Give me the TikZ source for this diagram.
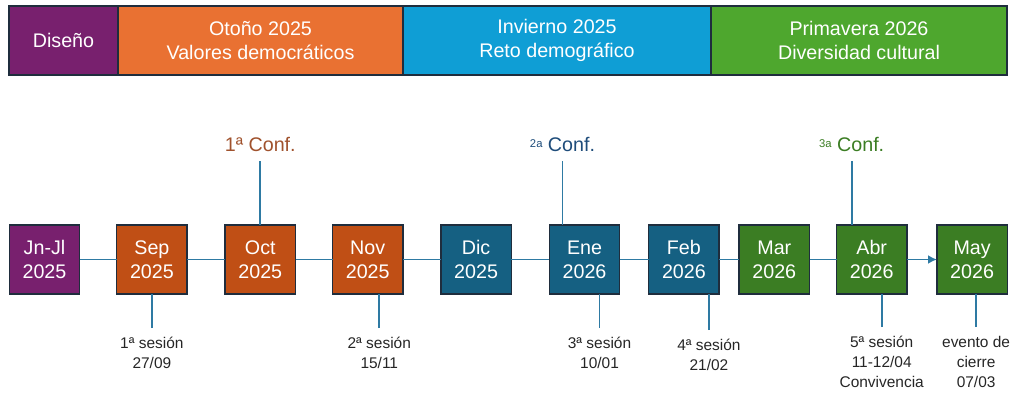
\documentclass[tikz,border=0pt]{standalone}
\usepackage{fontspec}
\setmainfont{Liberation Sans}
\usetikzlibrary{positioning}
\usetikzlibrary{arrows.meta}
\definecolor{lila}{HTML}{78206E}
\definecolor{herbstband}{HTML}{E97132}
\definecolor{herbst}{HTML}{C04F15}
\definecolor{winterband}{HTML}{0F9ED5}
\definecolor{winter}{HTML}{156082}
\definecolor{fruehband}{HTML}{4EA72E}
\definecolor{frueh}{HTML}{3B7D23}
\definecolor{rand}{HTML}{1F2D3D}
\definecolor{linie}{HTML}{2E7AA3}
\definecolor{braun}{HTML}{A0522D}
\definecolor{marine}{HTML}{1E4C7A}
\definecolor{grau}{HTML}{262626}
\newcommand{\hochz}[1]{{\fontsize{8}{8}\selectfont\raisebox{0.6ex}{#1}}}

\begin{document}
\begin{tikzpicture}[band/.style = {draw=rand, line width=0.9pt, outer sep=0pt, minimum height=1.725cm, inner sep=0pt, text=white, align=center, font=\fontsize{14}{17}\selectfont},
        monat/.style = {draw=rand, line width=0.9pt, outer sep=0pt, minimum width=1.76cm, minimum height=1.725cm, inner sep=0pt, text=white, align=center, font=\fontsize{14}{17}\selectfont},
        konf/.style = {inner sep=0pt, font=\fontsize{14}{17}\selectfont},
        sitzung/.style = {inner sep=0pt, align=center, text=grau, font=\fontsize{11}{14.2}\selectfont},
        zeit/.style = {draw=linie, line width=1.2pt}]
        \useasboundingbox (0,0) rectangle (25.325,-9.8);

        %Kopfzeile
        \node[band, fill=lila, minimum width=2.725cm] (dis) at (1.5875,-1.0125) {Diseño};
        \node[band, fill=herbstband, minimum width=7.125cm] (oto) [right = 0cm of dis] {Otoño 2025\\Valores democráticos};
        \node[band, fill=winterband, minimum width=7.7cm] (inv) [right = 0cm of oto] {Invierno 2025\\Reto demográfico};
        \node[band, fill=fruehband, minimum width=7.4cm] (pri) [right = 0cm of inv] {Primavera 2026\\Diversidad cultural};

        %Monate
        \node[monat, fill=lila] (jnjl) at (1.1125,-6.4875) {Jn-Jl\\2025};
        \node[monat, fill=herbst] (sep) [right = 0.925cm of jnjl] {Sep\\2025};
        \node[monat, fill=herbst] (oct) [right = 0.95cm of sep] {Oct\\2025};
        \node[monat, fill=herbst] (nov) [right = 0.925cm of oct] {Nov\\2025};
        \node[monat, fill=winter] (dic) [right = 0.95cm of nov] {Dic\\2025};
        \node[monat, fill=winter] (ene) [right = 0.95cm of dic] {Ene\\2026};
        \node[monat, fill=winter] (feb) [right = 0.725cm of ene] {Feb\\2026};
        \node[monat, fill=frueh] (mar) [right = 0.5cm of feb] {Mar\\2026};
        \node[monat, fill=frueh] (abr) [right = 0.675cm of mar] {Abr\\2026};
        \node[monat, fill=frueh] (may) [right = 0.75cm of abr] {May\\2026};

        %Konferenzen
        \node[konf, text=braun] (k1) [above = 1.825cm of oct] {1ª Conf.};
        \node[konf, text=marine] (k2) [above = 1.825cm of ene, xshift=-0.55cm] {\hochz{2a} Conf.};
        \node[konf, text=frueh] (k3) [above = 1.825cm of abr, xshift=-0.5cm] {\hochz{3a} Conf.};

        %Sitzungen
        \node[sitzung] (s1) [below = 1.075cm of sep] {1ª sesión\\27/09};
        \node[sitzung] (s2) [below = 1.075cm of nov, xshift=0.29cm] {2ª sesión\\15/11};
        \node[sitzung] (s3) [below = 1.075cm of ene, xshift=0.375cm] {3ª sesión\\10/01};
        \node[sitzung] (s4) [below = 1.125cm of feb, xshift=0.625cm] {4ª sesión\\21/02};
        \node[sitzung] (s5) [below = 1.05cm of abr, xshift=0.25cm] {5ª sesión\\11-12/04\\Convivencia};
        \node[sitzung] (s6) [below = 1.05cm of may, xshift=0.1cm] {evento de\\cierre\\07/03};

        %Zeitstrahl
        \draw[zeit] (jnjl) -- (sep);
        \draw[zeit] (sep) -- (oct);
        \draw[zeit] (oct) -- (nov);
        \draw[zeit] (nov) -- (dic);
        \draw[zeit] (dic) -- (ene);
        \draw[zeit] (ene) -- (feb);
        \draw[zeit] (feb) -- (mar);
        \draw[zeit] (mar) -- (abr);
        \draw[zeit, -{Latex[length=2.2mm, width=2.2mm]}] (abr) -- (may);

        \draw[zeit, shorten <=0.225cm] (k1.south) -- (k1.south |- oct.north);
        \draw[zeit, shorten <=0.225cm] (k2.south) -- (k2.south |- ene.north);
        \draw[zeit, shorten <=0.225cm] (k3.south) -- (k3.south |- abr.north);

        \draw[zeit, shorten <=0.225cm] (s1.north) -- (s1.north |- sep.south);
        \draw[zeit, shorten <=0.225cm] (s2.north) -- (s2.north |- nov.south);
        \draw[zeit, shorten <=0.225cm] (s3.north) -- (s3.north |- ene.south);
        \draw[zeit, shorten <=0.225cm] (s4.north) -- (s4.north |- feb.south);
        \draw[zeit, shorten <=0.225cm] (s5.north) -- (s5.north |- abr.south);
        \draw[zeit, shorten <=0.225cm] (s6.north) -- (s6.north |- may.south);

    \end{tikzpicture}
\end{document}
